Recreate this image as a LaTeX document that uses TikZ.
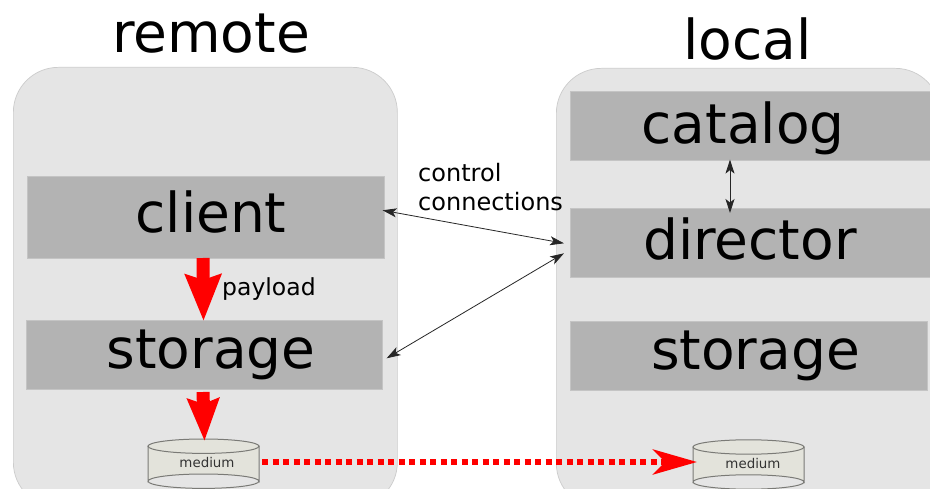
\documentclass[tikz,border=0pt]{standalone}
\usepackage{fontspec}
\setmainfont{DejaVu Sans}
\usetikzlibrary{arrows.meta}
\definecolor{panelgray}{HTML}{E5E5E5}
\definecolor{panelline}{HTML}{CCCCCC}
\definecolor{boxgray}{HTML}{B3B3B3}
\definecolor{boxline}{HTML}{C4C4C4}
\definecolor{mediumfill}{HTML}{E3E3DB}
\definecolor{mediumline}{HTML}{7A7A76}
\tikzset{
  panel/.style={draw=panelline,line width=0.7pt,fill=panelgray,rounded corners=45pt,anchor=north west,inner sep=0pt},
  layerbox/.style={draw=boxline,line width=0.6pt,fill=boxgray,anchor=north west,inner sep=0pt},
  biglabel/.style={font=\fontsize{55}{55}\selectfont,anchor=base,inner sep=0pt},
  smalllabel/.style={font=\fontsize{23.5}{24}\selectfont,anchor=base west,inner sep=0pt},
  ctllabel/.style={font=\fontsize{24}{24}\selectfont,anchor=base west,inner sep=0pt},
  diskline/.style={draw=mediumline,line width=1pt,fill=mediumfill},
  mediumtext/.style={font=\fontsize{13.4}{14}\selectfont,text=black!80,inner sep=0pt,anchor=base},
  payloadbig/.style={draw=red,line width=13pt,-{Stealth[length=46pt,width=35pt,inset=5pt]}},
  payloadsmall/.style={draw=red,line width=13pt,-{Stealth[length=42pt,width=31pt,inset=5pt]}},
  payloaddots/.style={draw=red,line width=6pt,dash pattern=on 6pt off 4.5pt,-{Stealth[length=44pt,width=25pt,inset=12pt]}},
  control/.style={draw=black!85,line width=0.8pt,{Stealth[length=14pt,width=9pt,inset=3.5pt]}-{Stealth[length=14pt,width=9pt,inset=3.5pt]}}
}
\newcommand{\diskshape}[3]{%
  % centre x, top-ellipse y, bottom-ellipse y
  \draw[diskline] (#1-55.5,#2) -- (#1-55.5,#3) arc[start angle=180,end angle=360,x radius=55.5,y radius=7.2] -- (#1+55.5,#2) -- cycle;
  \draw[diskline] (#1,#2) ellipse[x radius=55.5,y radius=7.2];
  \draw[diskline,fill=none] (#1-55.5,#3) arc[start angle=180,end angle=0,x radius=55.5,y radius=7.2];
}
\begin{document}
\begin{tikzpicture}[x=1pt,y=-1pt]
\useasboundingbox (0,0) rectangle (930,489);
\clip (0,0) rectangle (930,489);
\fill[white] (0,0) rectangle (930,489);
% panels
\node[panel,minimum width=384pt,minimum height=440pt] (remotepanel) at (13,67) {};
\node[panel,minimum width=384pt,minimum height=440pt] (localpanel) at (556,68) {};
% titles
\node[biglabel] (remotetitle) at (211,53) {remote};
\node[biglabel] (localtitle) at (747.5,60) {local};
% layers
\node[layerbox,minimum width=357pt,minimum height=82pt] (clientbox) at (27,176) {};
\node[layerbox,minimum width=356pt,minimum height=69pt] (storagebox) at (26,320) {};
\node[layerbox,minimum width=370pt,minimum height=69pt] (catalogbox) at (570,91) {};
\node[layerbox,minimum width=370pt,minimum height=69pt] (directorbox) at (570,208) {};
\node[layerbox,minimum width=357pt,minimum height=69pt] (localstoragebox) at (570,321) {};
\node[biglabel] (clienttext) at (211,233) {client};
\node[biglabel] (storagetext) at (211,368.5) {storage};
\node[biglabel] (catalogtext) at (743,143.5) {catalog};
\node[biglabel] (directortext) at (750,260) {director};
\node[biglabel] (localstoragetext) at (755.5,369.5) {storage};
% media
\diskshape{203.5}{446.2}{481.2}
\diskshape{748.5}{447}{482}
\node[mediumtext] (remotemediumtext) at (207,467.5) {medium};
\node[mediumtext] (localmediumtext) at (753,468.5) {medium};
% labels
\node[ctllabel] (controltext) at (418,182) {control};
\node[ctllabel] (connectionstext) at (418,211) {connections};
\node[smalllabel] (payloadtext) at (222,296) {payload};
% payload arrows
\coordinate (cliOut) at (203,258);
\coordinate (stoIn) at (203.5,321);
\coordinate (stoOut) at (203,392);
\coordinate (medIn) at (204.5,441);
\draw[payloadbig] (cliOut) -- (stoIn);
\draw[payloadsmall] (stoOut) -- (medIn);
\coordinate (dotsStart) at (262,462);
\coordinate (dotsEnd) at (697,462);
\draw[payloaddots] (dotsStart) -- (dotsEnd);
% control arrows
\draw[control] ([shift={(-2,-7)}]clientbox.east) -- ([shift={(-6,0.5)}]directorbox.west);
\draw[control] ([shift={(4,3.5)}]storagebox.east) -- ([shift={(-6,10.5)}]directorbox.west);
\draw[control] ([yshift=1pt]catalogbox.south -| 730,0) -- ([yshift=-5pt]directorbox.north -| 730,0);
\end{tikzpicture}
\end{document}
